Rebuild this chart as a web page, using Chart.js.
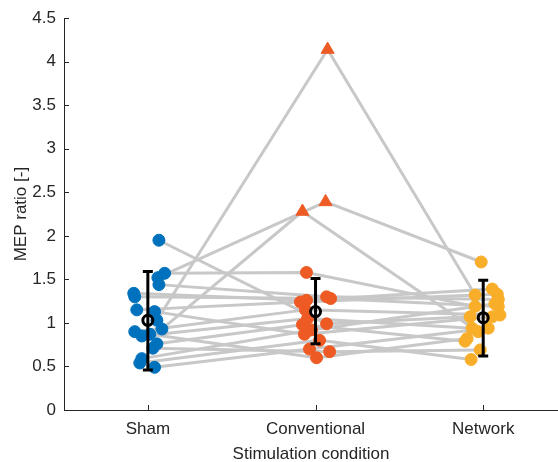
<!DOCTYPE html>
<html>
<head>
<meta charset="utf-8">
<script src="https://cdn.jsdelivr.net/npm/chart.js@4.4.1/dist/chart.umd.min.js"></script>
<style>
  html, body { margin: 0; padding: 0; background: #fff; }
  #wrap { width: 558px; height: 462px; }
</style>
</head>
<body>
<div id="wrap"><canvas id="mep" width="558" height="462"></canvas></div>
<script>
// conditions along the x axis
const categories = ['Sham', 'Conventional', 'Network'];

// MEP ratio per subject, one entry per subject in each condition
const shamValues = [1.95, 1.57, 1.52, 1.44, 1.34, 1.30, 1.15, 1.13, 1.03, 0.93, 0.90, 0.85, 0.87, 0.76, 0.71, 0.59, 0.54, 0.49];
const convValues = [0.99, 1.58, 2.39, 1.30, 1.26, 1.28, 1.24, 0.87, 4.14, 2.28, 1.15, 1.05, 0.60, 0.98, 0.67, 0.92, 0.80, 0.70];
const netValues  = [1.07, 1.19, 1.70, 1.27, 1.39, 1.19, 1.33, 1.07, 1.32, 0.90, 1.09, 0.94, 0.82, 0.79, 0.69, 1.22, 0.58, 0.94];

// horizontal scatter of each subject around its condition (x units)
const shamJitter = [0.066, 0.10, 0.06, 0.066, -0.084, -0.078, -0.066, 0.04, 0.054, 0.084, -0.078, -0.036, 0.012, 0.054, 0.03, -0.036, -0.048, 0.04];
const convJitter = [0.066, -0.054, 0.06, 0.066, -0.054, 0.09, -0.09, -0.066, 0.072, -0.078, -0.06, -0.048, 0.006, -0.078, 0.084, -0.024, 0.024, -0.036];
const netJitter  = [-0.078, -0.048, -0.012, 0.09, 0.054, 0.09, 0.084, 0.054, -0.048, -0.03, 0.10, -0.066, -0.096, -0.108, -0.018, 0.07, -0.072, 0.03];

// outliers in the conventional condition (drawn as triangles)
const convOutlier = convValues.map(v => v > 2);

// group summary: mean and error bar limits
const groupMean  = [1.03, 1.13, 1.06];
const groupLower = [0.46, 0.76, 0.62];
const groupUpper = [1.59, 1.51, 1.49];

const yTicks = [0, 0.5, 1, 1.5, 2, 2.5, 3, 3.5, 4, 4.5];

const colors = ['#0072BD', '#EE5A24', '#F9AE2A'];
const groups = [
  { values: shamValues, jitter: shamJitter, outlier: shamValues.map(() => false) },
  { values: convValues, jitter: convJitter, outlier: convOutlier },
  { values: netValues,  jitter: netJitter,  outlier: netValues.map(() => false) },
];

const FONT = "'Liberation Sans', Arial, sans-serif";
const TEXT = '#262626';

const datasets = [];

// grey subject lines
shamValues.forEach((_, i) => {
  datasets.push({
    type: 'line',
    data: groups.map((g, k) => ({ x: k + 1 + g.jitter[i], y: g.values[i] })),
    borderColor: '#c8c8c8',
    borderWidth: 3,
    borderJoinStyle: 'round',
    pointRadius: 0,
    fill: false,
    order: 4,
  });
});

// individual points
groups.forEach((g, k) => {
  datasets.push({
    type: 'scatter',
    data: g.values.map((v, i) => ({ x: k + 1 + g.jitter[i], y: v })),
    backgroundColor: colors[k],
    borderColor: colors[k],
    borderWidth: 1,
    pointStyle: g.outlier.map(o => o ? 'triangle' : 'circle'),
    pointRadius: g.outlier.map(o => o ? 7.5 : 6),
    order: 3,
  });
});

// error bars
groups.forEach((g, k) => {
  datasets.push({
    type: 'line',
    data: [{ x: k + 1, y: groupLower[k] }, { x: k + 1, y: groupUpper[k] }],
    borderColor: '#000',
    borderWidth: 3,
    pointStyle: 'line',
    pointRadius: 5,
    pointBorderWidth: 3,
    pointBorderColor: '#000',
    fill: false,
    order: 2,
  });
});

// mean markers
datasets.push({
  type: 'scatter',
  data: groupMean.map((m, k) => ({ x: k + 1, y: m })),
  backgroundColor: 'rgba(0,0,0,0)',
  borderColor: '#000',
  borderWidth: 3,
  pointStyle: 'circle',
  pointRadius: 5,
  order: 1,
});

// small inward tick marks on both axes
const innerTicks = {
  id: 'innerTicks',
  afterDraw(chart) {
    const { ctx, chartArea, scales } = chart;
    ctx.save();
    ctx.strokeStyle = TEXT;
    ctx.lineWidth = 1;
    ctx.beginPath();
    [1, 2, 3].forEach(v => {
      const px = Math.round(scales.x.getPixelForValue(v)) + 0.5;
      ctx.moveTo(px, chartArea.bottom);
      ctx.lineTo(px, chartArea.bottom - 5);
    });
    yTicks.forEach(v => {
      const py = Math.round(scales.y.getPixelForValue(v)) + 0.5;
      ctx.moveTo(chartArea.left, py);
      ctx.lineTo(chartArea.left + 5, py);
    });
    ctx.stroke();
    ctx.restore();
  }
};

new Chart(document.getElementById('mep'), {
  type: 'scatter',
  data: { datasets },
  options: {
    responsive: false,
    animation: false,
    events: [],
    layout: { autoPadding: false, padding: { top: 15, right: 0, bottom: 0, left: 0 } },
    plugins: { legend: { display: false }, tooltip: { enabled: false } },
    scales: {
      x: {
        type: 'linear',
        min: 0.5,
        max: 3.446,
        afterBuildTicks: s => { s.ticks = [1, 2, 3].map(v => ({ value: v })); },
        afterFit: s => { s.height = 52; },
        grid: { display: false, drawTicks: false },
        border: { display: true, color: TEXT, width: 1 },
        ticks: {
          padding: 9,
          color: TEXT,
          font: { family: FONT, size: 17 },
          callback: v => categories[v - 1],
        },
        title: {
          display: true,
          text: 'Stimulation condition',
          color: TEXT,
          font: { family: FONT, size: 17, lineHeight: 1 },
          padding: { top: 0, bottom: -1 },
        },
      },
      y: {
        type: 'linear',
        min: 0,
        max: 4.5,
        afterBuildTicks: s => { s.ticks = yTicks.map(v => ({ value: v })); },
        afterFit: s => { s.width = 64; },
        grid: { display: false, drawTicks: false },
        border: { display: true, color: TEXT, width: 1 },
        ticks: {
          padding: 8,
          color: TEXT,
          font: { family: FONT, size: 17 },
          callback: v => String(v),
        },
        title: {
          display: true,
          text: 'MEP ratio [-]',
          color: TEXT,
          font: { family: FONT, size: 17, lineHeight: 1 },
          padding: { top: 13, bottom: 0 },
        },
      },
    },
  },
  plugins: [innerTicks],
});
</script>
</body>
</html>
